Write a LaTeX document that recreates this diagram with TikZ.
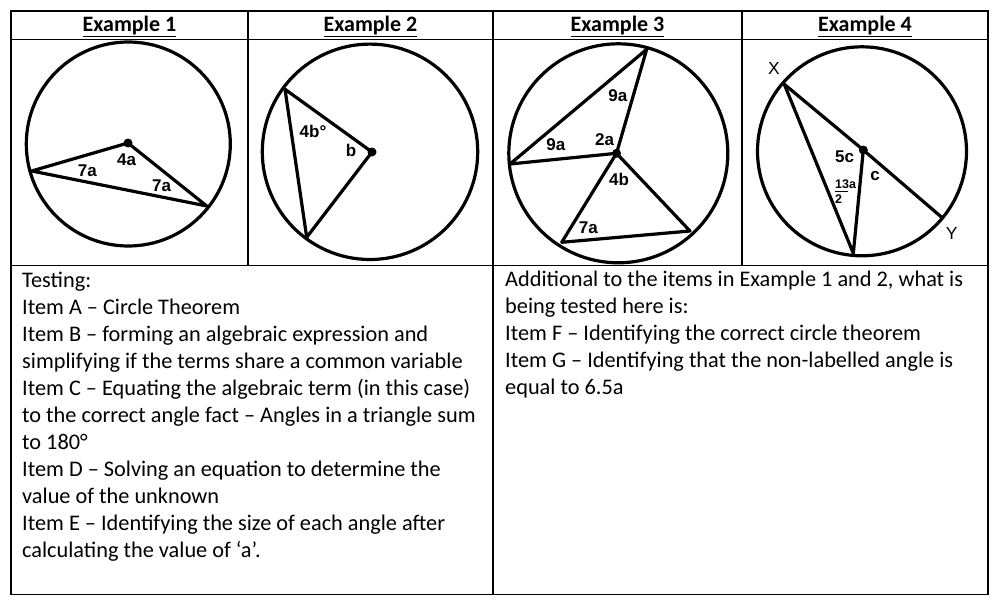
\documentclass[tikz,border=0pt]{standalone}
\usepackage{fontspec}
\setmainfont{Carlito}
\newfontfamily\arialf{Liberation Sans}
\begin{document}
\begin{tikzpicture}[x=1pt,y=-1pt,
  grid/.style={line width=1.3pt},
  geo/.style={line width=3.2pt, line join=round, line cap=round},
  cdot/.style={circle, fill=black, inner sep=0pt, minimum size=9pt},
  lbl/.style={font=\arialf\bfseries\fontsize{17}{17}\selectfont, anchor=base, inner sep=0pt},
  ltr/.style={font=\arialf\fontsize{17.5}{17.5}\selectfont, anchor=base, inner sep=0pt},
  frac/.style={font=\arialf\bfseries\fontsize{12.5}{12.5}\selectfont, anchor=base west, inner sep=0pt},
  head/.style={font=\bfseries\fontsize{22}{24}\selectfont, anchor=base, inner sep=0pt},
  body/.style={font=\fontsize{22.3}{27}\selectfont, anchor=base west, inner sep=0pt}]
\useasboundingbox (0,0) rectangle (1000,607);
% table
\draw[grid] (11,11) rectangle (988,594.5);
\draw[grid] (11,39.5) -- (988,39.5);
\draw[grid] (11,265.5) -- (988,265.5);
\draw[grid] (248,11) -- (248,265.5);
\draw[grid] (493,11) -- (493,594.5);
\draw[grid] (742,11) -- (742,265.5);
% headers
\node[head] (h1) at (129.5,31.5) {\underline{Example 1}};
\node[head] (h2) at (370.5,31.5) {\underline{Example 2}};
\node[head] (h3) at (617.5,31.5) {\underline{Example 3}};
\node[head] (h4) at (865,31.5) {\underline{Example 4}};
% Example 1
\draw[geo] (128.3,144) circle (102);
\node[cdot] (o1) at (128,143) {};
\coordinate (p1a) at (31.7,171);
\coordinate (p1b) at (206.7,206);
\draw[geo] (p1a) -- (o1.center) -- (p1b) -- cycle;
\node[lbl] (l1a) at (126.7,165.7) {4a};
\node[lbl] (l1b) at (87.3,176) {7a};
\node[lbl] (l1c) at (161.7,191) {7a};
% Example 2
\draw[geo] (370,151.8) circle (107.7);
\node[cdot] (o2) at (372,152) {};
\coordinate (p2a) at (285,89.3);
\coordinate (p2b) at (306.7,237.3);
\draw[geo] (o2.center) -- (p2a) -- (p2b) -- cycle;
\node[lbl] (l2a) at (313,137.3) {4b°};
\node[lbl] (l2b) at (351,156.7) {b};
% Example 3
\draw[geo] (618.3,153.3) circle (109.5);
\node[cdot] (o3) at (616.5,153.3) {};
\coordinate (p3a) at (646.7,49.3);
\coordinate (p3b) at (510,164);
\coordinate (p3c) at (561.7,242.3);
\coordinate (p3d) at (690,231);
\draw[geo] (o3.center) -- (p3a) -- (p3b) -- cycle;
\draw[geo] (o3.center) -- (p3c) -- (p3d) -- cycle;
\node[lbl] (l3a) at (617.8,101.7) {9a};
\node[lbl] (l3b) at (555.8,150.7) {9a};
\node[lbl] (l3c) at (604.5,145) {2a};
\node[lbl] (l3d) at (619,185) {4b};
\node[lbl] (l3e) at (588.3,233.3) {7a};
% Example 4
\draw[geo] (862,151.3) circle (104.5);
\node[cdot] (o4) at (863.3,150) {};
\coordinate (p4x) at (784.3,84.3);
\coordinate (p4y) at (941.7,217.3);
\coordinate (p4b) at (853.3,253.3);
\draw[geo] (p4x) -- (o4.center) -- (p4y);
\draw[geo] (p4x) -- (p4b) -- (o4.center);
\node[ltr] (lx) at (774,75) {X};
\node[ltr] (ly) at (951.7,239.3) {Y};
\node[lbl] (l4a) at (844.5,162.7) {5c};
\node[lbl] (l4b) at (875,180) {c};
\node[frac] (l4n) at (835,188.3) {13a};
\draw[line width=0.9pt] (835,191) -- (848,191);
\node[frac] (l4d) at (835,203) {2};
% left text
\node[body] (t1) at (22,287.3) {Testing:};
\node[body] (t2) at (22,314.3) {Item A – Circle Theorem};
\node[body] (t3) at (22,341.3) {Item B – forming an algebraic expression and};
\node[body] (t4) at (22,368.3) {simplifying if the terms share a common variable};
\node[body] (t5) at (22,395.3) {Item C – Equating the algebraic term (in this case)};
\node[body] (t6) at (22,422.3) {to the correct angle fact – Angles in a triangle sum};
\node[body] (t7) at (22,449.5) {to 180°};
\node[body] (t8) at (22,476.5) {Item D – Solving an equation to determine the};
\node[body] (t9) at (22,503.5) {value of the unknown};
\node[body] (t10) at (22,530.5) {Item E – Identifying the size of each angle after};
\node[body] (t11) at (22,557.5) {calculating the value of ‘a’.};
% right text
\node[body] (r1) at (505,286.7) {Additional to the items in Example 1 and 2, what is};
\node[body] (r2) at (505,313.7) {being tested here is:};
\node[body] (r3) at (505,340.7) {Item F – Identifying the correct circle theorem};
\node[body] (r4) at (505,367.7) {Item G – Identifying that the non-labelled angle is};
\node[body] (r5) at (505,394.7) {equal to 6.5a};
\end{tikzpicture}
\end{document}
